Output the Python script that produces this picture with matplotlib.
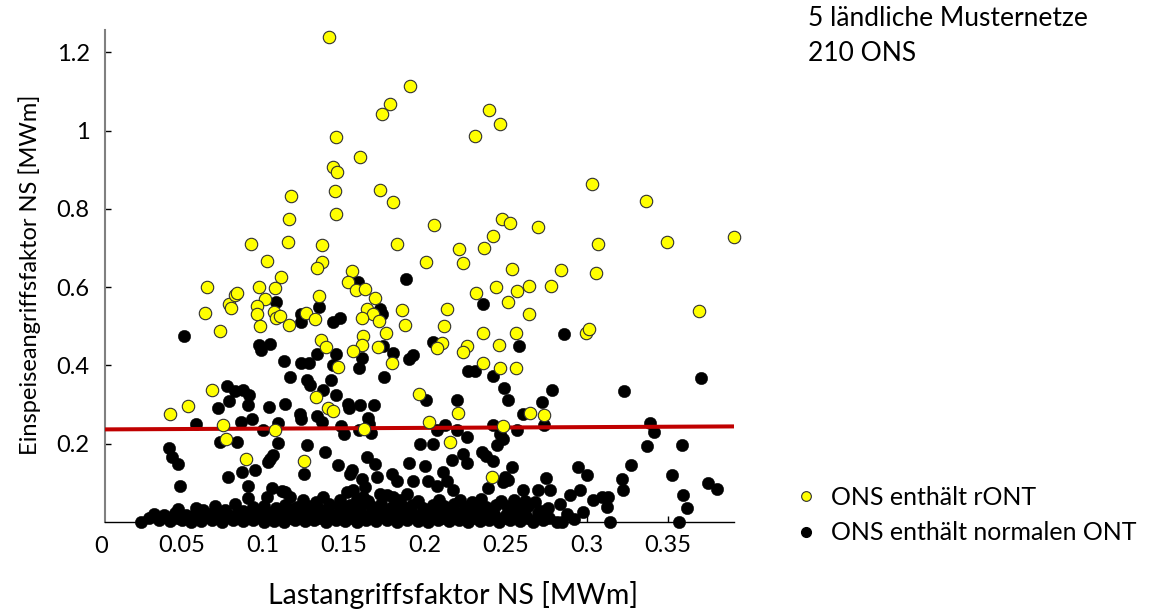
import matplotlib
matplotlib.use("Agg")
import matplotlib.pyplot as plt
from matplotlib.lines import Line2D

plt.rcParams['font.family'] = ['Lato', 'DejaVu Sans']

# ---- data: ONS with rONT (yellow) ----
ront_x = [0.1411, 0.1911, 0.1786, 0.1734, 0.2397, 0.2463, 0.2309, 0.1452, 0.1600, 0.1432,
          0.1460, 0.1444, 0.1722, 0.1806, 0.1454, 0.2059, 0.2475, 0.2527, 0.2420, 0.2368,
          0.2212, 0.2235, 0.2008, 0.1827, 0.1366, 0.1364, 0.1337, 0.1551, 0.1525, 0.2537,
          0.2440, 0.2643, 0.1173, 0.1162, 0.1158, 0.0930, 0.1028, 0.1113, 0.0654, 0.0980,
          0.1076, 0.3035, 0.3366, 0.2698, 0.3068, 0.3496, 0.3911, 0.2843, 0.3055, 0.2780,
          0.0646, 0.0735, 0.0790, 0.0802, 0.0827, 0.0843, 0.1016, 0.0963, 0.0963, 0.0985,
          0.1070, 0.1082, 0.1109, 0.1164, 0.1267, 0.1325, 0.1345, 0.1360, 0.0689, 0.0541,
          0.0428, 0.0753, 0.0773, 0.1076, 0.1329, 0.1576, 0.1632, 0.1695, 0.1646, 0.1679,
          0.1613, 0.1718, 0.1862, 0.1878, 0.2136, 0.2117, 0.2317, 0.2512, 0.2570, 0.2647,
          0.1761, 0.1617, 0.1389, 0.1611, 0.1559, 0.1710, 0.1800, 0.1465, 0.2105, 0.2076,
          0.2263, 0.2240, 0.2358, 0.2457, 0.2562, 0.2362, 0.2467, 0.2562, 0.1965, 0.1405,
          0.1432, 0.2207, 0.2028, 0.1625, 0.2481, 0.2156, 0.2650, 0.3695, 0.2994, 0.3012,
          0.2738, 0.0895, 0.1255, 0.2413]
ront_y = [1.238, 1.113, 1.067, 1.043, 1.052, 1.017, 0.987, 0.984, 0.932, 0.907,
          0.895, 0.845, 0.848, 0.818, 0.787, 0.760, 0.774, 0.765, 0.731, 0.701,
          0.697, 0.662, 0.665, 0.709, 0.707, 0.663, 0.648, 0.641, 0.612, 0.646,
          0.601, 0.602, 0.833, 0.774, 0.716, 0.709, 0.668, 0.626, 0.600, 0.600,
          0.597, 0.864, 0.819, 0.753, 0.711, 0.715, 0.728, 0.644, 0.635, 0.604,
          0.535, 0.488, 0.558, 0.548, 0.579, 0.584, 0.571, 0.552, 0.531, 0.500,
          0.537, 0.520, 0.527, 0.503, 0.535, 0.518, 0.577, 0.466, 0.337, 0.296,
          0.275, 0.247, 0.212, 0.234, 0.320, 0.594, 0.595, 0.572, 0.544, 0.532,
          0.520, 0.514, 0.541, 0.503, 0.543, 0.500, 0.585, 0.561, 0.590, 0.531,
          0.483, 0.475, 0.447, 0.451, 0.438, 0.446, 0.405, 0.397, 0.457, 0.444,
          0.449, 0.435, 0.483, 0.453, 0.484, 0.405, 0.394, 0.394, 0.328, 0.291,
          0.283, 0.279, 0.256, 0.238, 0.244, 0.204, 0.278, 0.538, 0.483, 0.492,
          0.274, 0.162, 0.156, 0.115]

# ---- data: ONS with normal ONT (black), scattered points ----
ont_x = [0.1586, 0.1883, 0.0516, 0.1082, 0.1235, 0.1238, 0.0980, 0.0990, 0.1047, 0.1130,
         0.1240, 0.1286, 0.1333, 0.1169, 0.1271, 0.1292, 0.0778, 0.0829, 0.0877, 0.0915,
         0.0792, 0.0722, 0.0911, 0.1041, 0.1138, 0.1230, 0.1236, 0.1337, 0.0586, 0.0868,
         0.0936, 0.1096, 0.1000, 0.0840, 0.0736, 0.1096, 0.1276, 0.0420,
         0.1350, 0.1724, 0.1735, 0.1477, 0.1432, 0.2358, 0.2583, 0.2053, 0.1745, 0.1806,
         0.1930, 0.1905, 0.1452, 0.1611, 0.1436, 0.1596, 0.1749, 0.1420, 0.2269, 0.2310,
         0.2423, 0.2491, 0.2516, 0.2609, 0.1370, 0.1452, 0.1528, 0.1535, 0.1600, 0.1689,
         0.1366, 0.1652, 0.1658, 0.1483, 0.1504, 0.1596, 0.1669, 0.2008, 0.2198, 0.2125,
         0.2074, 0.2198, 0.2259, 0.2420, 0.2465, 0.2481, 0.2568, 0.1971, 0.2049, 0.2444,
         0.2862, 0.2786, 0.2722, 0.2736, 0.3230, 0.3706, 0.3391, 0.3416, 0.3370, 0.3586,
         0.0438, 0.0480, 0.0490, 0.0784, 0.0870, 0.0952, 0.0911, 0.0911, 0.0829, 0.1025,
         0.1055, 0.1045, 0.1066, 0.1138, 0.1169, 0.1255, 0.1385, 0.1467, 0.1549, 0.1611,
         0.1642, 0.1693, 0.1704, 0.1796, 0.1374, 0.1477, 0.1559, 0.1621, 0.1765,
         0.2167, 0.2239, 0.2263, 0.2352, 0.2378, 0.2424, 0.2537, 0.2496, 0.2516, 0.1905,
         0.2002, 0.1930, 0.2022, 0.2115, 0.2136, 0.2393, 0.2609, 0.2701, 0.2774, 0.2749,
         0.2948, 0.3000, 0.2959, 0.2897, 0.2835, 0.3040, 0.3093, 0.3134, 0.3123, 0.3144,
         0.3216, 0.3222, 0.3272, 0.3525, 0.3596, 0.3617, 0.3572, 0.3751, 0.3802,
         0.1035, 0.1117, 0.1539, 0.1632, 0.1518, 0.1827, 0.2485, 0.2177, 0.2074, 0.1806,
         0.1724, 0.1889]
ont_y = [0.612, 0.620, 0.475, 0.561, 0.532, 0.511, 0.453, 0.439, 0.456, 0.412,
         0.405, 0.406, 0.428, 0.370, 0.362, 0.349, 0.348, 0.334, 0.336, 0.324,
         0.309, 0.290, 0.300, 0.295, 0.302, 0.277, 0.264, 0.270, 0.251, 0.256,
         0.262, 0.253, 0.234, 0.204, 0.204, 0.202, 0.198, 0.190,
         0.549, 0.543, 0.532, 0.520, 0.511, 0.556, 0.450, 0.460, 0.450, 0.432,
         0.426, 0.417, 0.430, 0.420, 0.400, 0.394, 0.370, 0.364, 0.386, 0.386,
         0.373, 0.343, 0.311, 0.275, 0.338, 0.324, 0.302, 0.291, 0.298, 0.298,
         0.255, 0.265, 0.251, 0.245, 0.226, 0.234, 0.227, 0.311, 0.311, 0.247,
         0.234, 0.234, 0.217, 0.247, 0.224, 0.213, 0.234, 0.200, 0.200, 0.198,
         0.481, 0.338, 0.306, 0.249, 0.334, 0.369, 0.254, 0.231, 0.195, 0.198,
         0.166, 0.149, 0.092, 0.115, 0.127, 0.134, 0.093, 0.061, 0.047, 0.063,
         0.087, 0.162, 0.170, 0.076, 0.063, 0.123, 0.179, 0.145, 0.132, 0.110,
         0.166, 0.149, 0.115, 0.123, 0.063, 0.055, 0.081, 0.063, 0.068,
         0.159, 0.174, 0.150, 0.179, 0.168, 0.157, 0.140, 0.115, 0.108, 0.151,
         0.144, 0.106, 0.106, 0.127, 0.106, 0.087, 0.081, 0.081, 0.082, 0.112,
         0.140, 0.119, 0.081, 0.068, 0.047, 0.055, 0.063, 0.063, 0.038, 0.000,
         0.110, 0.082, 0.146, 0.121, 0.070, 0.036, 0.000, 0.099, 0.085,
         0.153, 0.079, 0.123, 0.089, 0.076, 0.106, 0.102, 0.081, 0.093, 0.063,
         0.072, 0.072]

# dense band of normal-ONT stations close to zero feed-in
band_x = [0.025, 0.036, 0.043, 0.050, 0.056, 0.062, 0.069, 0.075, 0.082, 0.088,
          0.094, 0.101, 0.107, 0.113, 0.120, 0.126, 0.132, 0.139, 0.145, 0.151,
          0.158, 0.164, 0.170, 0.177, 0.183, 0.189, 0.196, 0.202, 0.208, 0.215,
          0.221, 0.227, 0.234, 0.240, 0.246, 0.253, 0.259, 0.267, 0.273, 0.2815,
          0.2846,
          0.033, 0.039, 0.046, 0.053, 0.059, 0.066, 0.072, 0.079, 0.085, 0.091,
          0.098, 0.104, 0.110, 0.117, 0.123, 0.129, 0.136, 0.142, 0.148, 0.155,
          0.161, 0.167, 0.174, 0.180, 0.186, 0.193, 0.199, 0.205, 0.212, 0.218,
          0.224, 0.231, 0.237, 0.243, 0.250, 0.256, 0.262, 0.270, 0.2877, 0.2979,
          0.048, 0.059, 0.0706, 0.094, 0.101, 0.108, 0.114, 0.121, 0.128, 0.134,
          0.141, 0.147, 0.154, 0.160, 0.167, 0.173, 0.180, 0.186, 0.192, 0.199,
          0.205, 0.212, 0.218, 0.225, 0.231, 0.238, 0.244, 0.251, 0.257, 0.264,
          0.276,
          0.125, 0.133, 0.158, 0.165, 0.185, 0.196, 0.209, 0.222, 0.229, 0.235,
          0.247, 0.255, 0.262, 0.268,
          0.030, 0.040, 0.047, 0.054, 0.065, 0.072, 0.078, 0.085, 0.091, 0.097,
          0.104, 0.111, 0.116, 0.123, 0.129, 0.135, 0.142, 0.148, 0.154, 0.161,
          0.167, 0.173, 0.180, 0.186, 0.192, 0.199, 0.205, 0.211, 0.218, 0.224,
          0.230, 0.237, 0.243, 0.249, 0.256, 0.263, 0.270, 0.277, 0.292,
          0.063, 0.077, 0.088, 0.111, 0.118, 0.131, 0.138, 0.150, 0.157, 0.170,
          0.177, 0.183, 0.189, 0.202, 0.208, 0.215, 0.228, 0.234, 0.241, 0.253,
          0.260, 0.272]
band_y = [0.000, 0.004, 0.002, 0.006, 0.001, 0.003, 0.005, 0.000, 0.004, 0.002,
          0.006, 0.001, 0.003, 0.000, 0.005, 0.002, 0.004, 0.001, 0.006, 0.003,
          0.000, 0.005, 0.002, 0.004, 0.001, 0.006, 0.003, 0.000, 0.004, 0.002,
          0.005, 0.001, 0.003, 0.006, 0.000, 0.004, 0.002, 0.000, 0.005, 0.000,
          0.000,
          0.021, 0.019, 0.024, 0.018, 0.022, 0.020, 0.025, 0.019, 0.023, 0.021,
          0.018, 0.024, 0.020, 0.022, 0.025, 0.019, 0.023, 0.021, 0.018, 0.024,
          0.020, 0.022, 0.025, 0.019, 0.023, 0.021, 0.018, 0.024, 0.020, 0.022,
          0.025, 0.019, 0.023, 0.021, 0.018, 0.024, 0.020, 0.022, 0.021, 0.025,
          0.034, 0.036, 0.040, 0.038, 0.042, 0.036, 0.044, 0.039, 0.041, 0.037,
          0.045, 0.040, 0.043, 0.038, 0.042, 0.046, 0.039, 0.041, 0.044, 0.037,
          0.043, 0.040, 0.045, 0.038, 0.042, 0.039, 0.044, 0.041, 0.037, 0.040,
          0.036,
          0.055, 0.052, 0.058, 0.054, 0.056, 0.053, 0.057, 0.055, 0.052, 0.058,
          0.054, 0.056, 0.053, 0.051,
          0.010, 0.012, 0.009, 0.011, 0.013, 0.010, 0.012, 0.009, 0.011, 0.013,
          0.010, 0.012, 0.009, 0.011, 0.013, 0.010, 0.012, 0.009, 0.011, 0.013,
          0.010, 0.012, 0.009, 0.011, 0.013, 0.010, 0.012, 0.009, 0.011, 0.013,
          0.010, 0.012, 0.009, 0.011, 0.013, 0.010, 0.012, 0.009, 0.008,
          0.030, 0.031, 0.029, 0.030, 0.032, 0.031, 0.029, 0.030, 0.032, 0.031,
          0.029, 0.030, 0.032, 0.031, 0.029, 0.030, 0.032, 0.031, 0.029, 0.030,
          0.031, 0.029]

# linear trend line
trend_x = [0.0027, 0.391]
trend_y = [0.2366, 0.2442]

x_ticks = [0.05, 0.1, 0.15, 0.2, 0.25, 0.3, 0.35]
x_ticklabels = ['0.05', '0.1', '0.15', '0.2', '0.25', '0.3', '0.35']
y_ticks = [0.2, 0.4, 0.6, 0.8, 1.0, 1.2]
y_ticklabels = ['0.2', '0.4', '0.6', '0.8', '1', '1.2']

legend_labels = ['ONS enthält rONT', 'ONS enthält normalen ONT']
info_text = '5 ländliche Musternetze\n210 ONS'
x_label = 'Lastangriffsfaktor NS [MWm]'
y_label = 'Einspeiseangriffsfaktor NS [MWm]'

# ---- figure ----
W, H = 1158, 610
fig = plt.figure(figsize=(W / 100, H / 100), dpi=100)
ax = fig.add_axes([105 / W, 1 - 522 / H, (734 - 105) / W, (522 - 30) / H])

ms = 80
ax.scatter(ont_x + band_x, ont_y + band_y, s=ms, c='black', edgecolors='black',
           linewidths=0.3, zorder=2, clip_on=False)
ax.plot(trend_x, trend_y, color='#c00000', lw=2.9, zorder=3, solid_capstyle='butt')
ax.scatter(ront_x, ront_y, s=ms, c='#ffff00', edgecolors='#303030',
           linewidths=0.8, zorder=4, clip_on=False)

ax.set_xlim(0.0027, 0.391)
ax.set_ylim(0, 1.257)

for s in ['top', 'right']:
    ax.spines[s].set_visible(False)
ax.spines['left'].set_color('#808080')
ax.spines['left'].set_linewidth(1.5)
ax.spines['bottom'].set_color('black')
ax.spines['bottom'].set_linewidth(1.0)

tfs = 17
ax.set_xticks(x_ticks)
ax.set_xticklabels(x_ticklabels, fontsize=tfs)
ax.set_yticks(y_ticks)
ax.set_yticklabels(y_ticklabels, fontsize=tfs)
ax.tick_params(axis='x', direction='in', length=4, width=1, pad=9)
ax.tick_params(axis='y', direction='in', length=4, width=1, pad=11)

ax.text(0.0, -0.028, '0', transform=ax.get_xaxis_transform(), ha='center', va='top',
        fontsize=tfs)

fig.text(453 / W, 1 - 595 / H, x_label, ha='center', va='center', fontsize=20.5)
fig.text(30 / W, 1 - 275 / H, y_label, ha='center', va='center', rotation=90, fontsize=17)

fig.text(808 / W, 1 - 6 / H, info_text, ha='left', va='top', fontsize=19,
         linespacing=1.5)

handles = [Line2D([], [], marker='o', ls='none', markersize=7, markerfacecolor='#ffff00',
                  markeredgecolor='#303030', markeredgewidth=0.8),
           Line2D([], [], marker='o', ls='none', markersize=7, markerfacecolor='black',
                  markeredgecolor='black')]
fig.legend(handles, legend_labels, loc='center left', bbox_to_anchor=(796 / W, 1 - 515 / H),
           frameon=False, fontsize=18, handlelength=0.8, handletextpad=0.6,
           labelspacing=0.5, borderpad=0, borderaxespad=0)

fig.savefig('out.png', dpi=100)
